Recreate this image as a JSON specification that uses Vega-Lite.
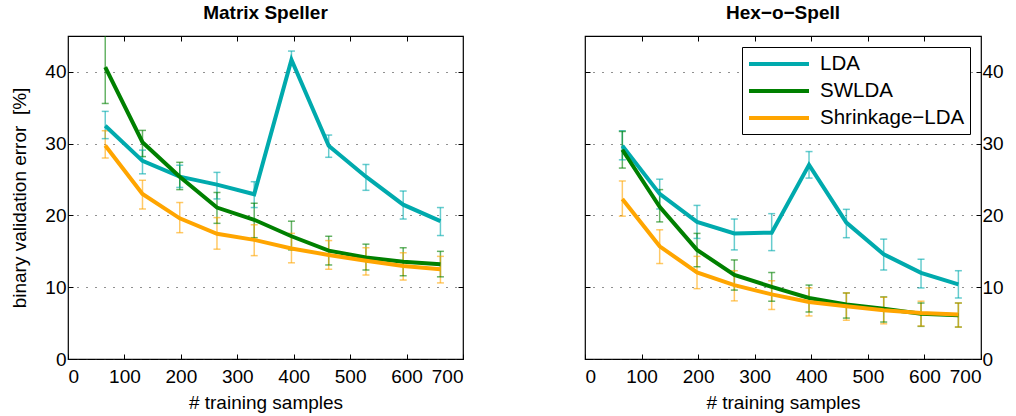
{
  "$schema": "https://vega.github.io/schema/vega-lite/v6.json",
  "background": "white",
  "padding": {"left": 10, "top": 2, "right": 0, "bottom": 0},
  "spacing": 118,
  "config": {
    "font": "Liberation Sans",
    "view": {"stroke": "black", "strokeWidth": 1.2},
    "axis": {
      "labelFont": "Liberation Sans", "labelFontSize": 19, "labelColor": "black",
      "titleFont": "Liberation Sans", "titleFontSize": 19, "titleFontWeight": "normal", "titleColor": "black",
      "tickColor": "black", "tickSize": -5, "tickWidth": 1, "domain": false,
      "gridColor": "#222", "gridDash": [1, 8], "gridWidth": 1.2
    },
    "title": {"font": "Liberation Sans", "fontSize": 19, "fontWeight": "bold", "color": "black", "offset": 13}
  },
  "resolve": {"scale": {"color": "independent"}},
  "datasets": {
    "d": [
      {"panel": "M", "method": "LDA", "n": 66, "err": 32.5, "lo": 30.7, "hi": 34.5},
      {"panel": "M", "method": "LDA", "n": 132, "err": 27.6, "lo": 25.8, "hi": 29.1},
      {"panel": "M", "method": "LDA", "n": 198, "err": 25.4, "lo": 23.9, "hi": 27.0},
      {"panel": "M", "method": "LDA", "n": 264, "err": 24.3, "lo": 22.3, "hi": 26.0},
      {"panel": "M", "method": "LDA", "n": 330, "err": 22.95, "lo": 21.1, "hi": 24.7},
      {"panel": "M", "method": "LDA", "n": 396, "err": 41.7, "lo": 40.9, "hi": 42.9},
      {"panel": "M", "method": "LDA", "n": 462, "err": 29.7, "lo": 28.1, "hi": 31.2},
      {"panel": "M", "method": "LDA", "n": 528, "err": 25.4, "lo": 23.5, "hi": 27.1},
      {"panel": "M", "method": "LDA", "n": 594, "err": 21.5, "lo": 19.5, "hi": 23.4},
      {"panel": "M", "method": "LDA", "n": 660, "err": 19.2, "lo": 17.2, "hi": 21.1},
      {"panel": "M", "method": "SWLDA", "n": 66, "err": 40.65, "lo": 35.6, "hi": 46},
      {"panel": "M", "method": "SWLDA", "n": 132, "err": 30.2, "lo": 28.2, "hi": 31.85},
      {"panel": "M", "method": "SWLDA", "n": 198, "err": 25.4, "lo": 23.6, "hi": 27.4},
      {"panel": "M", "method": "SWLDA", "n": 264, "err": 21.1, "lo": 18.9, "hi": 23.2},
      {"panel": "M", "method": "SWLDA", "n": 330, "err": 19.4, "lo": 16.9, "hi": 21.7},
      {"panel": "M", "method": "SWLDA", "n": 396, "err": 17.1, "lo": 15.2, "hi": 19.2},
      {"panel": "M", "method": "SWLDA", "n": 462, "err": 15.1, "lo": 13.1, "hi": 17.1},
      {"panel": "M", "method": "SWLDA", "n": 528, "err": 14.15, "lo": 12.4, "hi": 16.0},
      {"panel": "M", "method": "SWLDA", "n": 594, "err": 13.55, "lo": 11.6, "hi": 15.5},
      {"panel": "M", "method": "SWLDA", "n": 660, "err": 13.2, "lo": 11.45, "hi": 15.0},
      {"panel": "M", "method": "Shrinkage−LDA", "n": 66, "err": 29.75, "lo": 28.0, "hi": 31.8},
      {"panel": "M", "method": "Shrinkage−LDA", "n": 132, "err": 23.0, "lo": 20.9, "hi": 24.9},
      {"panel": "M", "method": "Shrinkage−LDA", "n": 198, "err": 19.6, "lo": 17.6, "hi": 21.8},
      {"panel": "M", "method": "Shrinkage−LDA", "n": 264, "err": 17.45, "lo": 15.3, "hi": 19.7},
      {"panel": "M", "method": "Shrinkage−LDA", "n": 330, "err": 16.6, "lo": 14.4, "hi": 18.7},
      {"panel": "M", "method": "Shrinkage−LDA", "n": 396, "err": 15.4, "lo": 13.4, "hi": 17.5},
      {"panel": "M", "method": "Shrinkage−LDA", "n": 462, "err": 14.5, "lo": 12.5, "hi": 16.5},
      {"panel": "M", "method": "Shrinkage−LDA", "n": 528, "err": 13.7, "lo": 11.7, "hi": 15.5},
      {"panel": "M", "method": "Shrinkage−LDA", "n": 594, "err": 12.95, "lo": 11.0, "hi": 14.8},
      {"panel": "M", "method": "Shrinkage−LDA", "n": 660, "err": 12.5, "lo": 10.6, "hi": 14.3},
      {"panel": "H", "method": "LDA", "n": 66, "err": 29.7, "lo": 27.75, "hi": 31.8},
      {"panel": "H", "method": "LDA", "n": 132, "err": 23.0, "lo": 20.9, "hi": 25.05},
      {"panel": "H", "method": "LDA", "n": 198, "err": 19.1, "lo": 16.8, "hi": 21.4},
      {"panel": "H", "method": "LDA", "n": 264, "err": 17.5, "lo": 15.2, "hi": 19.5},
      {"panel": "H", "method": "LDA", "n": 330, "err": 17.6, "lo": 15.1, "hi": 20.25},
      {"panel": "H", "method": "LDA", "n": 396, "err": 27.05, "lo": 25.2, "hi": 28.9},
      {"panel": "H", "method": "LDA", "n": 462, "err": 19.0, "lo": 16.9, "hi": 20.85},
      {"panel": "H", "method": "LDA", "n": 528, "err": 14.6, "lo": 12.4, "hi": 16.7},
      {"panel": "H", "method": "LDA", "n": 594, "err": 12.0, "lo": 9.9, "hi": 13.9},
      {"panel": "H", "method": "LDA", "n": 660, "err": 10.4, "lo": 8.5, "hi": 12.3},
      {"panel": "H", "method": "SWLDA", "n": 66, "err": 29.15, "lo": 26.6, "hi": 31.7},
      {"panel": "H", "method": "SWLDA", "n": 132, "err": 21.2, "lo": 19.1, "hi": 23.6},
      {"panel": "H", "method": "SWLDA", "n": 198, "err": 15.2, "lo": 12.85, "hi": 17.5},
      {"panel": "H", "method": "SWLDA", "n": 264, "err": 11.7, "lo": 9.6, "hi": 13.8},
      {"panel": "H", "method": "SWLDA", "n": 330, "err": 10.05, "lo": 8.05, "hi": 12.05},
      {"panel": "H", "method": "SWLDA", "n": 396, "err": 8.5, "lo": 6.55, "hi": 10.3},
      {"panel": "H", "method": "SWLDA", "n": 462, "err": 7.6, "lo": 5.7, "hi": 9.2},
      {"panel": "H", "method": "SWLDA", "n": 528, "err": 7.0, "lo": 5.15, "hi": 8.65},
      {"panel": "H", "method": "SWLDA", "n": 594, "err": 6.3, "lo": 4.55, "hi": 7.8},
      {"panel": "H", "method": "SWLDA", "n": 660, "err": 6.1, "lo": 4.45, "hi": 7.8},
      {"panel": "H", "method": "Shrinkage−LDA", "n": 66, "err": 22.3, "lo": 19.9, "hi": 24.8},
      {"panel": "H", "method": "Shrinkage−LDA", "n": 132, "err": 15.7, "lo": 13.3, "hi": 18.0},
      {"panel": "H", "method": "Shrinkage−LDA", "n": 198, "err": 12.05, "lo": 9.8, "hi": 14.3},
      {"panel": "H", "method": "Shrinkage−LDA", "n": 264, "err": 10.3, "lo": 8.1, "hi": 12.3},
      {"panel": "H", "method": "Shrinkage−LDA", "n": 330, "err": 9.0, "lo": 6.9, "hi": 10.9},
      {"panel": "H", "method": "Shrinkage−LDA", "n": 396, "err": 7.95, "lo": 6.0, "hi": 9.9},
      {"panel": "H", "method": "Shrinkage−LDA", "n": 462, "err": 7.35, "lo": 5.4, "hi": 9.2},
      {"panel": "H", "method": "Shrinkage−LDA", "n": 528, "err": 6.8, "lo": 4.9, "hi": 8.6},
      {"panel": "H", "method": "Shrinkage−LDA", "n": 594, "err": 6.4, "lo": 4.6, "hi": 8.05},
      {"panel": "H", "method": "Shrinkage−LDA", "n": 660, "err": 6.2, "lo": 4.45, "hi": 7.8}
    ]
  },
  "hconcat": [
    {
      "width": 395, "height": 323,
      "title": "Matrix Speller",
      "data": {"name": "d"},
      "transform": [{"filter": "datum.panel == 'M'"}],
      "resolve": {"axis": {"x": "independent", "y": "independent"}},
      "layer": [
        {
          "mark": {"type": "rule", "strokeWidth": 1.5, "opacity": 0.6, "clip": true},
          "encoding": {
            "x": {"field": "n", "type": "quantitative", "scale": {"domain": [0, 700], "nice": false},
                  "axis": {"orient": "bottom", "values": [0, 100, 200, 300, 400, 500, 600, 700], "title": "# training samples", "labelPadding": 13, "titlePadding": 7, "grid": false}},
            "y": {"field": "lo", "type": "quantitative", "scale": {"domain": [0, 45], "nice": false, "zero": false},
                  "axis": {"orient": "left", "values": [0, 10, 20, 30, 40], "title": "binary validation error \u00a0[%]", "labelPadding": 7, "titlePadding": 15, "grid": true}},
            "y2": {"field": "hi"},
            "color": {"field": "method", "type": "nominal", "scale": {"domain": ["LDA", "SWLDA", "Shrinkage−LDA"], "range": ["#00AAAD", "#008000", "#FFA500"]}, "legend": null}
          }
        },
        {
          "mark": {"type": "tick", "orient": "horizontal", "size": 7, "thickness": 1.5, "opacity": 0.6, "clip": true},
          "encoding": {
            "x": {"field": "n", "type": "quantitative", "scale": {"domain": [0, 700], "nice": false}, "axis": {"orient": "top", "values": [100, 200, 300, 400, 500, 600], "labels": false, "title": null, "grid": false}},
            "y": {"field": "lo", "type": "quantitative", "scale": {"domain": [0, 45], "nice": false, "zero": false}, "axis": {"orient": "right", "values": [0, 10, 20, 30, 40], "labels": false, "title": null, "grid": false}},
            "color": {"field": "method", "type": "nominal", "legend": null}
          }
        },
        {
          "mark": {"type": "tick", "orient": "horizontal", "size": 7, "thickness": 1.5, "opacity": 0.6, "clip": true},
          "encoding": {
            "x": {"field": "n", "type": "quantitative", "scale": {"domain": [0, 700], "nice": false}, "axis": null},
            "y": {"field": "hi", "type": "quantitative", "scale": {"domain": [0, 45], "nice": false, "zero": false}, "axis": null},
            "color": {"field": "method", "type": "nominal", "legend": null}
          }
        },
        {
          "mark": {"type": "line", "strokeWidth": 4, "clip": true},
          "encoding": {
            "x": {"field": "n", "type": "quantitative", "scale": {"domain": [0, 700], "nice": false}, "axis": null},
            "y": {"field": "err", "type": "quantitative", "scale": {"domain": [0, 45], "nice": false, "zero": false}, "axis": null},
            "color": {"field": "method", "type": "nominal", "legend": null}
          }
        }
      ]
    },
    {
      "width": 396, "height": 323,
      "title": "Hex−o−Spell",
      "data": {"name": "d"},
      "transform": [{"filter": "datum.panel == 'H'"}],
      "resolve": {"axis": {"x": "independent", "y": "independent"}},
      "layer": [
        {
          "mark": {"type": "rule", "strokeWidth": 1.5, "opacity": 0.6, "clip": true},
          "encoding": {
            "x": {"field": "n", "type": "quantitative", "scale": {"domain": [0, 700], "nice": false},
                  "axis": {"orient": "bottom", "values": [0, 100, 200, 300, 400, 500, 600, 700], "title": "# training samples", "labelPadding": 13, "titlePadding": 7, "grid": false}},
            "y": {"field": "lo", "type": "quantitative", "scale": {"domain": [0, 45], "nice": false, "zero": false},
                  "axis": {"orient": "right", "values": [0, 10, 20, 30, 40], "title": null, "labelPadding": 6, "grid": true}},
            "y2": {"field": "hi"},
            "color": {"field": "method", "type": "nominal", "scale": {"domain": ["LDA", "SWLDA", "Shrinkage−LDA"], "range": ["#00AAAD", "#008000", "#FFA500"]},
                      "legend": {"title": null, "orient": "top-right", "offset": 11, "strokeColor": "black", "fillColor": "white", "padding": 5,
                                 "labelFont": "Liberation Sans", "labelFontSize": 20.5, "labelColor": "black", "labelLimit": 400,
                                 "symbolType": "M-3,0H3", "symbolSize": 400, "symbolStrokeWidth": 4, "symbolOpacity": 1, "symbolOffset": 20, "labelOffset": 29, "rowPadding": 4,
                                 "encode": {"symbols": {"update": {"opacity": {"value": 1}, "strokeOpacity": {"value": 1}}}}}}
          }
        },
        {
          "mark": {"type": "tick", "orient": "horizontal", "size": 7, "thickness": 1.5, "opacity": 0.6, "clip": true},
          "encoding": {
            "x": {"field": "n", "type": "quantitative", "scale": {"domain": [0, 700], "nice": false}, "axis": {"orient": "top", "values": [100, 200, 300, 400, 500, 600], "labels": false, "title": null, "grid": false}},
            "y": {"field": "lo", "type": "quantitative", "scale": {"domain": [0, 45], "nice": false, "zero": false}, "axis": {"orient": "left", "values": [0, 10, 20, 30, 40], "labels": false, "title": null, "grid": false}},
            "color": {"field": "method", "type": "nominal"}
          }
        },
        {
          "mark": {"type": "tick", "orient": "horizontal", "size": 7, "thickness": 1.5, "opacity": 0.6, "clip": true},
          "encoding": {
            "x": {"field": "n", "type": "quantitative", "scale": {"domain": [0, 700], "nice": false}, "axis": null},
            "y": {"field": "hi", "type": "quantitative", "scale": {"domain": [0, 45], "nice": false, "zero": false}, "axis": null},
            "color": {"field": "method", "type": "nominal"}
          }
        },
        {
          "mark": {"type": "line", "strokeWidth": 4, "clip": true},
          "encoding": {
            "x": {"field": "n", "type": "quantitative", "scale": {"domain": [0, 700], "nice": false}, "axis": null},
            "y": {"field": "err", "type": "quantitative", "scale": {"domain": [0, 45], "nice": false, "zero": false}, "axis": null},
            "color": {"field": "method", "type": "nominal"}
          }
        }
      ]
    }
  ]
}
